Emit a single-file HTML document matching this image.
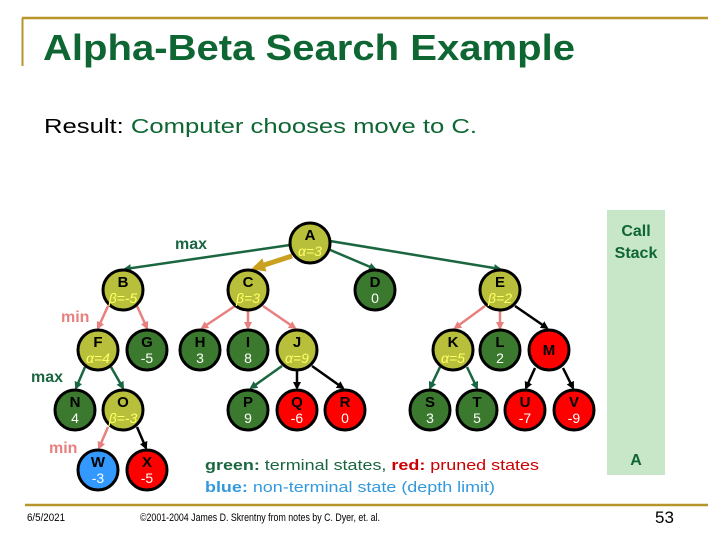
<!DOCTYPE html>
<html><head><meta charset="utf-8"><style>
html,body{margin:0;padding:0;background:#fff;}
svg{display:block;font-family:"Liberation Sans",Arial,sans-serif;}
</style></head><body>
<svg width="720" height="540" viewBox="0 0 720 540" xmlns="http://www.w3.org/2000/svg">
<defs>
<marker id="ag" markerWidth="8" markerHeight="8" refX="6" refY="4" orient="auto" markerUnits="userSpaceOnUse"><path d="M0,0 L8,4 L0,8 z" fill="#1a6640"/></marker>
<marker id="ap" markerWidth="8" markerHeight="8" refX="6" refY="4" orient="auto" markerUnits="userSpaceOnUse"><path d="M0,0 L8,4 L0,8 z" fill="#e88080"/></marker>
<marker id="ak" markerWidth="8" markerHeight="8" refX="6" refY="4" orient="auto" markerUnits="userSpaceOnUse"><path d="M0,0 L8,4 L0,8 z" fill="#000"/></marker>
<marker id="ao" markerWidth="14" markerHeight="14" refX="10" refY="7" orient="auto" markerUnits="userSpaceOnUse"><path d="M0,0 L14,7 L0,14 z" fill="#c9a020"/></marker>
</defs>
<!-- header lines -->
<line x1="22" y1="18" x2="708" y2="18" stroke="#b8952a" stroke-width="2.5"/>
<line x1="22.5" y1="18" x2="22.5" y2="66" stroke="#b8952a" stroke-width="2"/>
<text x="43" y="60" font-size="36" font-weight="bold" fill="#0e6633" textLength="532" lengthAdjust="spacingAndGlyphs">Alpha-Beta Search Example</text>
<text x="44" y="133" font-size="20" textLength="433" lengthAdjust="spacingAndGlyphs"><tspan fill="#000">Result: </tspan><tspan fill="#0e6633">Computer chooses move to C.</tspan></text>
<!-- call stack -->
<rect x="607" y="210" width="58" height="265" fill="#c8e6c8"/>
<text x="636" y="236" font-size="16" font-weight="bold" fill="#0e6633" text-anchor="middle">Call</text>
<text x="636" y="258" font-size="16" font-weight="bold" fill="#0e6633" text-anchor="middle">Stack</text>
<text x="636" y="465" font-size="16" font-weight="bold" fill="#0e6633" text-anchor="middle">A</text>
<!-- level labels -->
<text x="175" y="249" font-size="16" font-weight="bold" fill="#1a6640">max</text>
<text x="61" y="322" font-size="16" font-weight="bold" fill="#e88080">min</text>
<text x="31" y="382" font-size="16" font-weight="bold" fill="#1a6640">max</text>
<text x="49" y="453" font-size="16" font-weight="bold" fill="#e88080">min</text>
<!-- edges -->
<g stroke-width="2.5" fill="none">
<line x1="290" y1="245" x2="125" y2="269" stroke="#1a6640" marker-end="url(#ag)"/>
<line x1="292" y1="256" x2="255" y2="268" stroke="#c9a020" stroke-width="5" marker-end="url(#ao)"/>
<line x1="328" y1="249" x2="375" y2="269" stroke="#1a6640" marker-end="url(#ag)"/>
<line x1="330" y1="241" x2="500" y2="269" stroke="#1a6640" marker-end="url(#ag)"/>
<line x1="108" y1="306" x2="98" y2="328" stroke="#e88080" marker-end="url(#ap)"/>
<line x1="137" y1="306" x2="147" y2="328" stroke="#e88080" marker-end="url(#ap)"/>
<line x1="235" y1="306" x2="202" y2="328" stroke="#e88080" marker-end="url(#ap)"/>
<line x1="248" y1="310" x2="248" y2="328" stroke="#e88080" marker-end="url(#ap)"/>
<line x1="263" y1="306" x2="295" y2="328" stroke="#e88080" marker-end="url(#ap)"/>
<line x1="85" y1="367" x2="76" y2="388" stroke="#1a6640" marker-end="url(#ag)"/>
<line x1="111" y1="367" x2="123" y2="388" stroke="#1a6640" marker-end="url(#ag)"/>
<line x1="108" y1="427" x2="99" y2="448" stroke="#e88080" marker-end="url(#ap)"/>
<line x1="137" y1="427" x2="146" y2="448" stroke="#000" marker-end="url(#ak)"/>
<line x1="282" y1="366" x2="251" y2="388" stroke="#1a6640" marker-end="url(#ag)"/>
<line x1="297" y1="370" x2="297" y2="388" stroke="#000" marker-end="url(#ak)"/>
<line x1="312" y1="366" x2="343" y2="388" stroke="#000" marker-end="url(#ak)"/>
<line x1="485" y1="306" x2="455" y2="328" stroke="#e88080" marker-end="url(#ap)"/>
<line x1="500" y1="310" x2="500" y2="328" stroke="#e88080" marker-end="url(#ap)"/>
<line x1="515" y1="306" x2="547" y2="328" stroke="#000" marker-end="url(#ak)"/>
<line x1="440" y1="367" x2="430" y2="388" stroke="#1a6640" marker-end="url(#ag)"/>
<line x1="467" y1="367" x2="477" y2="388" stroke="#1a6640" marker-end="url(#ag)"/>
<line x1="535" y1="368" x2="526" y2="388" stroke="#000" marker-end="url(#ak)"/>
<line x1="563" y1="368" x2="573" y2="388" stroke="#000" marker-end="url(#ak)"/>
</g>
<!-- nodes -->
<g stroke="#000" stroke-width="3">
<circle cx="310" cy="243" r="20" fill="#b8bf3a"/>
<circle cx="123" cy="290" r="20" fill="#b8bf3a"/>
<circle cx="248" cy="290" r="20" fill="#b8bf3a"/>
<circle cx="375" cy="290" r="20" fill="#3b7a2e"/>
<circle cx="500" cy="290" r="20" fill="#b8bf3a"/>
<circle cx="98" cy="350" r="20" fill="#b8bf3a"/>
<circle cx="147" cy="350" r="20" fill="#3b7a2e"/>
<circle cx="200" cy="350" r="20" fill="#3b7a2e"/>
<circle cx="248" cy="350" r="20" fill="#3b7a2e"/>
<circle cx="297" cy="350" r="20" fill="#b8bf3a"/>
<circle cx="453" cy="350" r="20" fill="#b8bf3a"/>
<circle cx="500" cy="350" r="20" fill="#3b7a2e"/>
<circle cx="549" cy="350" r="20" fill="#f00"/>
<circle cx="75" cy="410" r="20" fill="#3b7a2e"/>
<circle cx="123" cy="410" r="20" fill="#b8bf3a"/>
<circle cx="248" cy="410" r="20" fill="#3b7a2e"/>
<circle cx="297" cy="410" r="20" fill="#f00"/>
<circle cx="345" cy="410" r="20" fill="#f00"/>
<circle cx="430" cy="410" r="20" fill="#3b7a2e"/>
<circle cx="477" cy="410" r="20" fill="#3b7a2e"/>
<circle cx="525" cy="410" r="20" fill="#f00"/>
<circle cx="574" cy="410" r="20" fill="#f00"/>
<circle cx="98" cy="470" r="20" fill="#3399ff"/>
<circle cx="147" cy="470" r="20" fill="#f00"/>
</g>
<g font-size="15" font-weight="bold" text-anchor="middle" fill="#000">
<text x="310" y="240">A</text><text x="123" y="287">B</text><text x="248" y="287">C</text>
<text x="375" y="287">D</text><text x="500" y="287">E</text><text x="98" y="347">F</text>
<text x="147" y="347">G</text><text x="200" y="347">H</text><text x="248" y="347">I</text>
<text x="297" y="347">J</text><text x="453" y="347">K</text><text x="500" y="347">L</text>
<text x="549" y="355">M</text><text x="75" y="407">N</text><text x="123" y="407">O</text>
<text x="248" y="407">P</text><text x="297" y="407">Q</text><text x="345" y="407">R</text>
<text x="430" y="407">S</text><text x="477" y="407">T</text><text x="525" y="407">U</text>
<text x="574" y="407">V</text><text x="98" y="467">W</text><text x="147" y="467">X</text>
</g>
<g font-size="14" text-anchor="middle" fill="#fff">
<text x="375" y="303">0</text><text x="147" y="363">-5</text><text x="200" y="363">3</text>
<text x="248" y="363">8</text><text x="500" y="363">2</text><text x="75" y="423">4</text>
<text x="248" y="423">9</text><text x="297" y="423">-6</text><text x="345" y="423">0</text>
<text x="430" y="423">3</text><text x="477" y="423">5</text><text x="525" y="423">-7</text>
<text x="574" y="423">-9</text><text x="98" y="483">-3</text><text x="147" y="483">-5</text>
</g>
<g font-size="14" font-style="italic" text-anchor="middle" fill="#ffff66">
<text x="310" y="256">α=3</text><text x="123" y="303">β=-5</text><text x="248" y="303">β=3</text>
<text x="500" y="303">β=2</text><text x="98" y="363">α=4</text><text x="297" y="363">α=9</text>
<text x="453" y="363">α=5</text><text x="123" y="423">β=-3</text>
</g>
<!-- legend -->
<text x="205" y="470" font-size="15" font-weight="bold" textLength="334" lengthAdjust="spacingAndGlyphs"><tspan fill="#1a6640">green:</tspan><tspan fill="#1a6640" font-weight="normal"> terminal states, </tspan><tspan fill="#cc0000">red:</tspan><tspan fill="#cc0000" font-weight="normal"> pruned states</tspan></text>
<text x="205" y="492" font-size="15" font-weight="bold" textLength="290" lengthAdjust="spacingAndGlyphs"><tspan fill="#3399dd">blue:</tspan><tspan fill="#3399dd" font-weight="normal"> non-terminal state (depth limit)</tspan></text>
<!-- footer -->
<line x1="25" y1="505" x2="708" y2="505" stroke="#b8952a" stroke-width="2.5"/>
<text x="27" y="521" font-size="11" fill="#000" textLength="38" lengthAdjust="spacingAndGlyphs">6/5/2021</text>
<text x="140" y="521" font-size="11" fill="#000" textLength="240" lengthAdjust="spacingAndGlyphs">©2001-2004 James D. Skrentny from notes by C. Dyer, et. al.</text>
<text x="655" y="523" font-size="17" fill="#000">53</text>
</svg>
</body></html>
